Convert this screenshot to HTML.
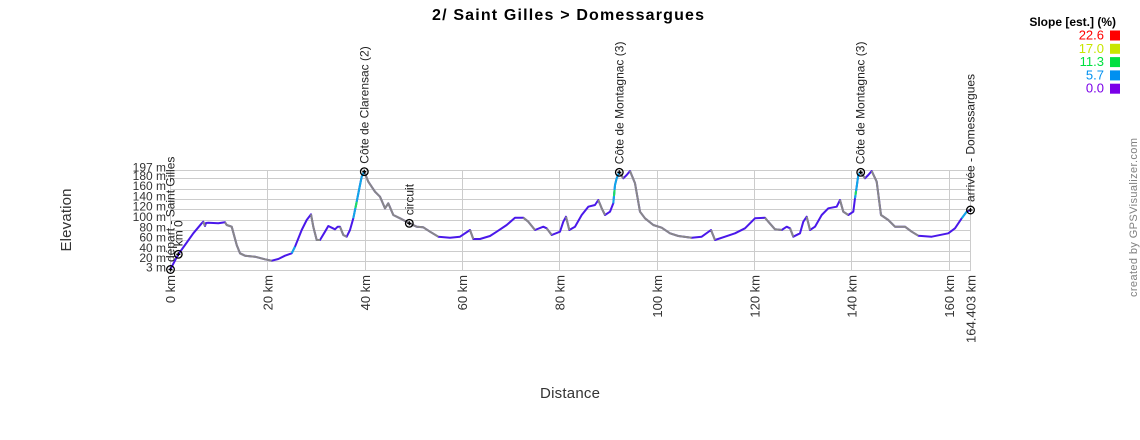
<!DOCTYPE html>
<html><head><meta charset="utf-8"><style>
html,body{margin:0;padding:0;background:#fff;}
svg{display:block;font-family:"Liberation Sans",Arial,sans-serif;}
</style></head><body>
<svg width="1140" height="440" viewBox="0 0 1140 440" xmlns="http://www.w3.org/2000/svg">
<rect width="1140" height="440" fill="#fff"/>
<!-- title -->
<text x="568" y="20" font-size="16" font-weight="bold" text-anchor="middle" textLength="272" fill="#000">2/ Saint Gilles &gt; Domessargues</text>
<!-- legend -->
<text x="1116" y="26" font-size="12" font-weight="bold" text-anchor="end" fill="#000">Slope [est.] (%)</text>
<g font-size="13" text-anchor="end">
<text x="1104" y="39.5" fill="#ff0000">22.6</text>
<text x="1104" y="52.8" fill="#c8e600">17.0</text>
<text x="1104" y="66.1" fill="#00e040">11.3</text>
<text x="1104" y="79.4" fill="#0090f0">5.7</text>
<text x="1104" y="92.7" fill="#7a00e8">0.0</text>
</g>
<rect x="1110" y="30.5" width="10" height="10" fill="#ff0000"/>
<rect x="1110" y="43.8" width="10" height="10" fill="#c8e600"/>
<rect x="1110" y="57.1" width="10" height="10" fill="#00e040"/>
<rect x="1110" y="70.4" width="10" height="10" fill="#0090f0"/>
<rect x="1110" y="83.7" width="10" height="10" fill="#7a00e8"/>
<!-- credit -->
<text transform="translate(1137,297) rotate(-90)" font-size="11" fill="#808080" textLength="159">created by GPSVisualizer.com</text>
<!-- axis titles -->
<text transform="translate(71,220) rotate(-90)" font-size="15" text-anchor="middle" fill="#333" textLength="63">Elevation</text>
<text x="570" y="398" font-size="15" text-anchor="middle" fill="#333" textLength="60">Distance</text>
<!-- grid -->
<g stroke="#cccccc" stroke-width="1" fill="none">
<line x1="170" y1="170.5" x2="971" y2="170.5"/>
<line x1="170" y1="178.5" x2="971" y2="178.5"/>
<line x1="170" y1="189.5" x2="971" y2="189.5"/>
<line x1="170" y1="199.5" x2="971" y2="199.5"/>
<line x1="170" y1="209.5" x2="971" y2="209.5"/>
<line x1="170" y1="220.5" x2="971" y2="220.5"/>
<line x1="170" y1="230.5" x2="971" y2="230.5"/>
<line x1="170" y1="240.5" x2="971" y2="240.5"/>
<line x1="170" y1="251.5" x2="971" y2="251.5"/>
<line x1="170" y1="261.5" x2="971" y2="261.5"/>
<line x1="170" y1="270.5" x2="971" y2="270.5"/>
<line x1="170.5" y1="170" x2="170.5" y2="271"/>
<line x1="267.5" y1="170" x2="267.5" y2="271"/>
<line x1="365.5" y1="170" x2="365.5" y2="271"/>
<line x1="462.5" y1="170" x2="462.5" y2="271"/>
<line x1="559.5" y1="170" x2="559.5" y2="271"/>
<line x1="657.5" y1="170" x2="657.5" y2="271"/>
<line x1="754.5" y1="170" x2="754.5" y2="271"/>
<line x1="851.5" y1="170" x2="851.5" y2="271"/>
<line x1="949.5" y1="170" x2="949.5" y2="271"/>
<line x1="970.5" y1="170" x2="970.5" y2="271"/>
</g>
<!-- y labels -->
<g font-size="12" text-anchor="end" fill="#333">
<text x="166" y="171.5">197 m</text>
<text x="166" y="179.8">180 m</text>
<text x="166" y="190.1">160 m</text>
<text x="166" y="200.4">140 m</text>
<text x="166" y="210.7">120 m</text>
<text x="166" y="221">100 m</text>
<text x="166" y="231.3">80 m</text>
<text x="166" y="241.6">60 m</text>
<text x="166" y="251.9">40 m</text>
<text x="166" y="262.2">20 m</text>
<text x="166" y="271.5">3 m</text>
</g>
<!-- x labels -->
<g font-size="13" text-anchor="end" fill="#333">
<text transform="translate(175.2,275) rotate(-90)">0 km</text>
<text transform="translate(272.5,275) rotate(-90)">20 km</text>
<text transform="translate(369.8,275) rotate(-90)">40 km</text>
<text transform="translate(467.2,275) rotate(-90)">60 km</text>
<text transform="translate(564.6,275) rotate(-90)">80 km</text>
<text transform="translate(662,275) rotate(-90)">100 km</text>
<text transform="translate(759.3,275) rotate(-90)">120 km</text>
<text transform="translate(856.7,275) rotate(-90)">140 km</text>
<text transform="translate(954,275) rotate(-90)">160 km</text>
<text transform="translate(975.5,275) rotate(-90)">164.403 km</text>
</g>
<!-- profile base -->
<polyline fill="none" stroke="#4a18ea" stroke-width="2" stroke-linejoin="round" points="170,270 178.3,254.3 185,245 193.3,233.3 201.7,223.3 203.3,221.7 205,226 206,223 208.3,222.7 218.3,223.3 225,222.3 226.7,225 231.7,226.7 236.7,245 240,253.3 245,255.7 255,256.7 265,259.3 271.7,260.7 278.3,259 285,255.7 291.7,253.3 295,246.7 301.7,230 306.7,220 311,214.3 313.3,226.7 316.7,240 320,240 325,231.7 328.3,226 331.7,227.7 335,229.3 337.7,226.7 340,226.7 343.3,235 346.7,236.7 350,230 353.3,218.3 356.7,201.7 360,185 361.7,176.7 364.3,171.7 368.3,181.7 375,191.7 380,196.7 385,208.3 388.3,203.3 393.3,215 400,218.3 409.3,223.3 416.7,226.7 423.3,227.3 430,231.7 438.3,236.7 450,237.7 460,236.7 470,230 473.3,239 480,239 490,236 496.7,231.7 506.7,225 515,217.7 523.3,217.7 528.3,221.7 535,230 543.3,226.7 546.7,228.3 551.7,235 560,231.7 563.3,221.7 566,216.7 569.3,230 575,226.7 581.7,215 588.3,206.7 595,205 598.3,200 601.7,208.3 605,215 610,211.7 613.3,203.3 615,185 616.7,178.3 619.3,172.3 623.3,178.3 626.7,175 630,171 635,183.3 640,211.7 645,218.3 653.3,225 661.7,227.7 670,233.3 678.3,236 691.7,237.7 701.7,236.7 711,230 715,240 725,236.7 735,233.3 745,228.3 755,218.3 765,217.7 768.3,221.7 775,229.3 781.7,230 786.7,226.7 790,228.3 793.3,236.7 800,233.3 803.3,221.7 806.7,216.7 810,230 815,226.7 821.7,215 828.3,208.3 836.7,206.7 840,200 843.3,211.7 848.3,215 853.3,211.7 855,198.3 856.7,186.7 858.3,175 860.7,172.3 865,178.3 868.3,175 871.7,171 876.7,181.7 881,215 888.3,220 895,226.7 905,226.7 911.7,231.7 918.3,235.7 931.7,236.7 948.3,233.3 955,228.3 961.7,218.3 966.7,211.7 970.5,210"/>
<!-- descents grey -->
<g fill="none" stroke="#888888" stroke-width="2" stroke-linejoin="round">
<polyline points="203.3,221.7 205,226"/>
<polyline points="225,222.3 226.7,225 231.7,226.7 236.7,245 240,253.3 245,255.7 255,256.7 265,259.3 271.7,260.7"/>
<polyline points="311,214.3 313.3,226.7 316.7,240 320,240"/>
<polyline points="340,226.7 343.3,235 346.7,236.7"/>
<polyline points="364.3,171.7 368.3,181.7 375,191.7 380,196.7 385,208.3 388.3,203.3 393.3,215 400,218.3 409.3,223.3 416.7,226.7 423.3,227.3 430,231.7 438.3,236.7"/>
<polyline points="470,230 473.3,239"/>
<polyline points="523.3,217.7 528.3,221.7 535,230"/>
<polyline points="546.7,228.3 551.7,235"/>
<polyline points="566,216.7 569.3,230"/>
<polyline points="598.3,200 601.7,208.3 605,215"/>
<polyline points="619.3,172.3 623.3,178.3"/>
<polyline points="630,171 635,183.3 640,211.7 645,218.3 653.3,225 661.7,227.7 670,233.3 678.3,236 691.7,237.7"/>
<polyline points="711,230 715,240"/>
<polyline points="765,217.7 768.3,221.7 775,229.3 781.7,230"/>
<polyline points="790,228.3 793.3,236.7"/>
<polyline points="806.7,216.7 810,230"/>
<polyline points="840,200 843.3,211.7 848.3,215"/>
<polyline points="860.7,172.3 865,178.3"/>
<polyline points="871.7,171 876.7,181.7 881,215 888.3,220 895,226.7 905,226.7 911.7,231.7 918.3,235.7"/>
</g>
<!-- steep climbs -->
<g fill="none" stroke="#10a8e8" stroke-width="2" stroke-linejoin="round">
<polyline points="353.3,218.3 356.7,201.7 360,185 361.7,176.7 364.3,171.7"/>
<polyline points="613.3,203.3 615,185 616.7,178.3 619.3,172.3"/>
<polyline points="855,198.3 856.7,186.7 858.3,175 860.7,172.3"/>
<polyline points="291.7,253.3 295,246.7"/>
<polyline points="961.7,218.3 966.7,211.7"/>
</g>
<g fill="none" stroke="#20e060" stroke-width="2">
<line x1="355.5" y1="208" x2="356.7" y2="201.7"/>
<line x1="614" y1="196" x2="614.6" y2="190"/>
<line x1="855.5" y1="195" x2="856" y2="191"/>
</g>
<!-- markers -->
<g fill="none" stroke="#000" stroke-width="1.3">
<circle cx="170.5" cy="269.5" r="3.8"/><path d="M168.5 269.5h4M170.5 267.5v4"/>
<circle cx="178.3" cy="254.3" r="3.8"/><path d="M176.3 254.3h4M178.3 252.3v4"/>
<circle cx="364.3" cy="171.7" r="3.8"/><path d="M362.3 171.7h4M364.3 169.7v4"/>
<circle cx="409.3" cy="223.3" r="3.8"/><path d="M407.3 223.3h4M409.3 221.3v4"/>
<circle cx="619.3" cy="172.3" r="3.8"/><path d="M617.3 172.3h4M619.3 170.3v4"/>
<circle cx="860.7" cy="172.3" r="3.8"/><path d="M858.7 172.3h4M860.7 170.3v4"/>
<circle cx="970.5" cy="210" r="3.8"/><path d="M968.5 210h4M970.5 208v4"/>
</g>
<!-- waypoint labels -->
<g font-size="12" fill="#222">
<text transform="translate(174.5,262) rotate(-90)">départ - Saint Gilles</text>
<text transform="translate(182.5,246.3) rotate(-90)">km 0</text>
<text transform="translate(368.3,163.7) rotate(-90)">Côte de Clarensac (2)</text>
<text transform="translate(413.3,215.3) rotate(-90)">circuit</text>
<text transform="translate(623.3,164.3) rotate(-90)">Côte de Montagnac (3)</text>
<text transform="translate(864.7,164.3) rotate(-90)">Côte de Montagnac (3)</text>
<text transform="translate(974.5,202) rotate(-90)">arrivée - Domessargues</text>
</g>
</svg>
</body></html>
